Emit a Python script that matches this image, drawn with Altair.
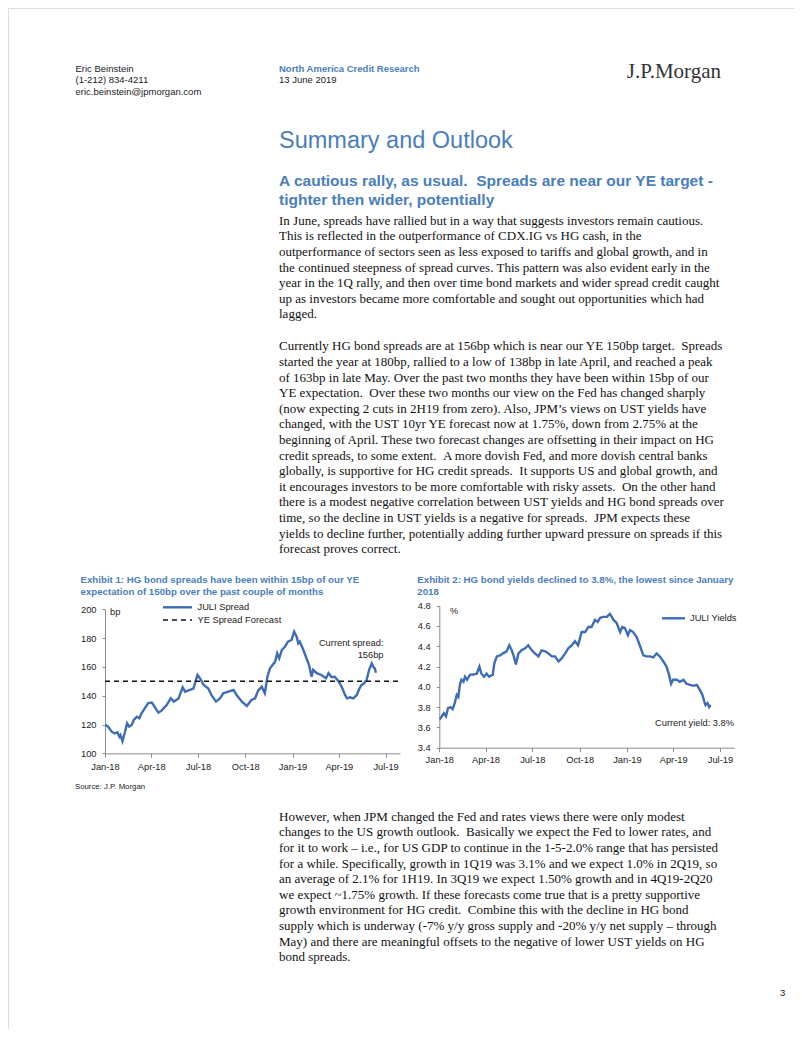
import altair as alt
import pandas as pd

# ---------------- page geometry ----------------
W, H = 786, 1021          # whole drawing (page minus 8px margin)
M = 8                     # page margin of the browser

BLUE_TXT = "#4A7EBB"
LINE_BLUE = "#3E6DB3"
AXIS_GREY = "#8C8C8C"
SANS = "Liberation Sans"
SERIF = "Liberation Serif"

# ---------------- texts ----------------
header_author = ["Eric Beinstein", "(1-212) 834-4211", "eric.beinstein@jpmorgan.com"]
header_unit = "North America Credit Research"
header_date = "13 June 2019"
logo = "J.P.Morgan"
page_title = "Summary and Outlook"
sub_heading = ["A cautious rally, as usual. \u00a0Spreads are near our YE target -",
               "tighter then wider, potentially"]

para1 = [
    "In June, spreads have rallied but in a way that suggests investors remain cautious.",
    "This is reflected in the outperformance of CDX.IG vs HG cash, in the",
    "outperformance of sectors seen as less exposed to tariffs and global growth, and in",
    "the continued steepness of spread curves. This pattern was also evident early in the",
    "year in the 1Q rally, and then over time bond markets and wider spread credit caught",
    "up as investors became more comfortable and sought out opportunities which had",
    "lagged.",
]
para2 = [
    "Currently HG bond spreads are at 156bp which is near our YE 150bp target. \u00a0Spreads",
    "started the year at 180bp, rallied to a low of 138bp in late April, and reached a peak",
    "of 163bp in late May. Over the past two months they have been within 15bp of our",
    "YE expectation. \u00a0Over these two months our view on the Fed has changed sharply",
    "(now expecting 2 cuts in 2H19 from zero). Also, JPM\u2019s views on UST yields have",
    "changed, with the UST 10yr YE forecast now at 1.75%, down from 2.75% at the",
    "beginning of April. These two forecast changes are offsetting in their impact on HG",
    "credit spreads, to some extent. \u00a0A more dovish Fed, and more dovish central banks",
    "globally, is supportive for HG credit spreads. \u00a0It supports US and global growth, and",
    "it encourages investors to be more comfortable with risky assets. \u00a0On the other hand",
    "there is a modest negative correlation between UST yields and HG bond spreads over",
    "time, so the decline in UST yields is a negative for spreads. \u00a0JPM expects these",
    "yields to decline further, potentially adding further upward pressure on spreads if this",
    "forecast proves correct.",
]
para3 = [
    "However, when JPM changed the Fed and rates views there were only modest",
    "changes to the US growth outlook. \u00a0Basically we expect the Fed to lower rates, and",
    "for it to work \u2013 i.e., for US GDP to continue in the 1-5-2.0% range that has persisted",
    "for a while. Specifically, growth in 1Q19 was 3.1% and we expect 1.0% in 2Q19, so",
    "an average of 2.1% for 1H19. In 3Q19 we expect 1.50% growth and in 4Q19-2Q20",
    "we expect ~1.75% growth. If these forecasts come true that is a pretty supportive",
    "growth environment for HG credit. \u00a0Combine this with the decline in HG bond",
    "supply which is underway (-7% y/y gross supply and -20% y/y net supply \u2013 through",
    "May) and there are meaningful offsets to the negative of lower UST yields on HG",
    "bond spreads.",
]
ex1_title = ["Exhibit 1: HG bond spreads have been within 15bp of our YE",
             "expectation of 150bp over the past couple of months"]
ex2_title = ["Exhibit 2: HG bond yields declined to 3.8%, the lowest since January",
             "2018"]
ex1_legend = ["JULI Spread", "YE Spread Forecast"]
ex2_legend = "JULI Yields"
ex1_note = ["Current spread:", "156bp"]
ex2_note = "Current yield: 3.8%"
source = "Source: J.P. Morgan"
page_no = "3"

# ---------------- chart data ----------------
spread_dates = [
    "2018-01-02", "2018-01-07", "2018-01-14", "2018-01-20", "2018-01-25", "2018-01-29", "2018-01-31",
    "2018-02-04", "2018-02-09", "2018-02-13", "2018-02-17", "2018-02-22", "2018-02-26",
    "2018-03-04", "2018-03-09", "2018-03-13", "2018-03-19", "2018-03-26",
    "2018-04-02", "2018-04-15", "2018-04-21",
    "2018-05-01", "2018-05-09", "2018-05-15", "2018-05-24",
    "2018-06-01", "2018-06-06", "2018-06-15", "2018-06-22", "2018-06-30",
    "2018-07-05", "2018-07-12", "2018-07-21", "2018-07-27",
    "2018-08-05", "2018-08-13", "2018-08-19", "2018-08-29",
    "2018-09-08", "2018-09-14", "2018-09-24",
    "2018-10-04", "2018-10-13", "2018-10-20", "2018-10-26",
    "2018-11-02", "2018-11-08", "2018-11-13", "2018-11-18", "2018-11-23", "2018-11-28",
    "2018-12-02", "2018-12-06", "2018-12-11", "2018-12-17", "2018-12-23", "2018-12-30",
    "2019-01-04", "2019-01-09", "2019-01-12", "2019-01-15", "2019-01-22", "2019-01-28",
    "2019-02-02", "2019-02-07", "2019-02-10", "2019-02-17", "2019-02-26",
    "2019-03-07", "2019-03-12", "2019-03-18", "2019-03-24", "2019-03-29",
    "2019-04-03", "2019-04-08", "2019-04-13", "2019-04-17", "2019-04-23", "2019-04-29",
    "2019-05-06", "2019-05-11", "2019-05-15", "2019-05-20", "2019-05-25", "2019-05-30",
    "2019-06-04", "2019-06-07", "2019-06-10", "2019-06-12",
]
spread_bp = [
    119.7, 118.5, 115, 113.8, 114.6, 111.5, 112.7,
    108.5, 115, 120.8, 118.5, 119.7, 123.1,
    125.4, 124.3, 127.8, 131, 134.9,
    135.2, 128.2, 129.6,
    133.5, 138.2, 135.9, 138,
    145.8, 142.8, 144, 145, 154.4,
    152, 147.4, 145, 140.5,
    135.9, 138.2, 141.7, 142.8,
    144, 140.5, 136,
    132.9, 137, 138.2, 143.5,
    146.3, 141.7, 153.2, 159, 161.3, 163.6,
    169.4, 166, 171.7, 174, 177.5, 178.7,
    184.5, 181, 176.4, 177.5, 171.7, 166,
    161.3, 153.2, 158, 155.6, 154.4,
    152.1, 155.6, 152.8, 153.2, 151,
    148.6, 145, 140.5, 138.2, 138.9, 138.2,
    140.5, 145, 147.4, 148.6, 151, 158,
    162.5, 160.1, 159, 156,
]
ye_forecast_bp = 150

yield_dates = [
    "2018-01-02", "2018-01-06", "2018-01-10", "2018-01-14", "2018-01-18", "2018-01-23", "2018-01-27", "2018-01-31",
    "2018-02-04", "2018-02-07", "2018-02-10", "2018-02-13", "2018-02-17", "2018-02-20", "2018-02-24",
    "2018-03-02", "2018-03-08", "2018-03-15", "2018-03-20", "2018-03-24", "2018-03-29",
    "2018-04-03", "2018-04-08", "2018-04-15", "2018-04-18", "2018-04-23", "2018-04-29",
    "2018-05-05", "2018-05-12", "2018-05-17", "2018-05-22", "2018-05-26", "2018-05-30",
    "2018-06-04", "2018-06-10", "2018-06-17", "2018-06-23", "2018-06-30",
    "2018-07-06", "2018-07-13", "2018-07-19", "2018-07-26",
    "2018-08-01", "2018-08-08", "2018-08-14", "2018-08-21", "2018-08-27",
    "2018-09-03", "2018-09-09", "2018-09-16", "2018-09-22", "2018-09-28",
    "2018-10-05", "2018-10-12", "2018-10-18", "2018-10-24", "2018-10-31",
    "2018-11-05", "2018-11-10", "2018-11-16", "2018-11-23", "2018-11-29",
    "2018-12-06", "2018-12-12", "2018-12-19", "2018-12-23", "2018-12-28",
    "2019-01-03", "2019-01-07", "2019-01-13", "2019-01-20", "2019-01-26",
    "2019-02-02", "2019-02-08", "2019-02-15", "2019-02-21", "2019-02-28",
    "2019-03-06", "2019-03-13", "2019-03-19", "2019-03-24", "2019-03-28",
    "2019-04-01", "2019-04-08", "2019-04-14", "2019-04-21", "2019-04-27",
    "2019-05-04", "2019-05-10", "2019-05-17", "2019-05-23", "2019-05-28",
    "2019-06-01", "2019-06-03", "2019-06-07", "2019-06-10", "2019-06-13",
]
yield_pct = [
    3.68, 3.71, 3.74, 3.71, 3.79, 3.80, 3.78, 3.84,
    3.92, 3.90, 4.02, 4.07, 4.05, 4.10, 4.07,
    4.12, 4.12, 4.13, 4.20, 4.13, 4.10,
    4.13, 4.10, 4.12, 4.23, 4.30, 4.31,
    4.33, 4.35, 4.41, 4.36, 4.30, 4.22,
    4.33, 4.36, 4.38, 4.41, 4.36,
    4.33, 4.30, 4.36, 4.35,
    4.33, 4.30, 4.30, 4.25, 4.28,
    4.33, 4.38, 4.41, 4.45, 4.41,
    4.54, 4.54, 4.59, 4.59, 4.66,
    4.64, 4.68, 4.69, 4.69, 4.72,
    4.66, 4.63, 4.54, 4.59, 4.58,
    4.51, 4.56, 4.54, 4.49, 4.41,
    4.31, 4.30, 4.30, 4.29, 4.33,
    4.30, 4.25, 4.20, 4.12, 4.03,
    4.07, 4.07, 4.05, 4.07, 4.03,
    4.02, 4.01, 4.02, 3.97, 3.92,
    3.85, 3.82, 3.84, 3.80, 3.82,
]

quarter_ticks = [(2018, 1), (2018, 4), (2018, 7), (2018, 10), (2019, 1), (2019, 4), (2019, 7)]
x_start = (2018, 1, 1)
x_end = (2019, 7, 29)
spread_ticks = [100, 120, 140, 160, 180, 200]
yield_ticks = [3.4, 3.6, 3.8, 4.0, 4.2, 4.4, 4.6, 4.8]

# ---------------- helpers ----------------
DUMMY = alt.Data(values=[{"k": 0}])


def dt(t):
    return alt.DateTime(year=t[0], month=t[1], date=t[2] if len(t) > 2 else 1)


def label(x, y, s, size=9.0, font=SANS, color="#222222", weight="normal",
          align="left", lh=None):
    """x, y: page coordinates of the (first) line's centre."""
    multi = isinstance(s, list)
    mark = dict(align=align, font=font, fontSize=size, fontWeight=weight, color=color)
    if multi:
        mark.update(baseline="alphabetic", lineHeight=lh or size * 1.2)
        yy = y - M + 0.32 * size
    else:
        mark.update(baseline="middle")
        yy = y - M
    return alt.Chart(DUMMY).mark_text(**mark).encode(
        x=alt.value(x - M), y=alt.value(yy), text=alt.value(s))


def legend_line(x0, x1, y, dash=None, color=LINE_BLUE, width=2.4):
    kw = dict(color=color, strokeWidth=width)
    if dash:
        kw["strokeDash"] = dash
    return alt.Chart(DUMMY).mark_rule(**kw).encode(
        x=alt.value(x0 - M), x2=alt.value(x1 - M),
        y=alt.value(y - M), y2=alt.value(y - M))


def x_axis(axis_y_page, pad):
    return alt.Axis(orient="bottom", offset=(axis_y_page - M) - H,
                    values=[dt(q) for q in quarter_ticks], format="%b-%y",
                    labelFont=SANS, labelFontSize=9.3, labelColor="#222222",
                    labelPadding=pad, labelFlush=False, labelOverlap=False,
                    tickSize=4, tickColor=AXIS_GREY, domainColor=AXIS_GREY,
                    grid=False, title=None)


def y_axis(axis_x_page, values, fmt):
    return alt.Axis(orient="left", offset=-(axis_x_page - M), values=values, format=fmt,
                    labelFont=SANS, labelFontSize=9.3, labelColor="#222222",
                    labelPadding=6, labelOverlap=False,
                    tickSize=3, tickColor=AXIS_GREY, domainColor=AXIS_GREY,
                    grid=False, title=None)


# ---------------- Exhibit 1 ----------------
spread_df = pd.DataFrame({"date": pd.to_datetime(spread_dates), "bp": spread_bp})
x1_scale = alt.Scale(domain=[dt(x_start), dt(x_end)], range=[105 - M, 400 - M])
y1_scale = alt.Scale(domain=[100, 200], range=[753.3 - M, 609.3 - M], nice=False, zero=False)

spread_line = alt.Chart(spread_df).mark_line(color=LINE_BLUE, strokeWidth=2.4).encode(
    x=alt.X("date:T", scale=x1_scale, axis=x_axis(753.3, 5)),
    y=alt.Y("bp:Q", scale=y1_scale, axis=y_axis(105, spread_ticks, "d")),
)
forecast_rule = alt.Chart(DUMMY).mark_rule(color="#111111", strokeWidth=1.4,
                                           strokeDash=[5, 4]).encode(
    x=alt.X(datum=dt(x_start), type="temporal"),
    x2=alt.X2(datum=dt(x_end)),
    y=alt.Y(datum=ye_forecast_bp, type="quantitative"),
)
exhibit1 = alt.layer(spread_line, forecast_rule)

# ---------------- Exhibit 2 ----------------
yield_df = pd.DataFrame({"date": pd.to_datetime(yield_dates), "pct": yield_pct})
x2_scale = alt.Scale(domain=[dt(x_start), dt(x_end)], range=[439.3 - M, 734.3 - M])
y2_scale = alt.Scale(domain=[3.4, 4.8], range=[747.7 - M, 605.7 - M], nice=False, zero=False)

yield_line = alt.Chart(yield_df).mark_line(color=LINE_BLUE, strokeWidth=2.4).encode(
    x=alt.X("date:T", scale=x2_scale, axis=x_axis(747.7, 4)),
    y=alt.Y("pct:Q", scale=y2_scale, axis=y_axis(439.3, yield_ticks, ".1f")),
)
exhibit2 = alt.layer(yield_line)

# ---------------- page texts ----------------
texts = [
    label(75.5, 69, header_author, size=9.5, lh=11.3),
    label(279, 69, header_unit, size=9.5, color=BLUE_TXT, weight="bold"),
    label(279, 80.3, header_date, size=9.5),
    label(721, 72, logo, size=21, font=SERIF, color="#333333", align="right"),
    label(279, 141, page_title, size=23.5, color=BLUE_TXT),
    label(279, 181.5, sub_heading, size=15.5, color=BLUE_TXT, weight="bold", lh=18.2),
    label(279, 220.6, para1, size=13, font=SERIF, color="#111111", lh=15.6),
    label(279, 346.2, para2, size=13, font=SERIF, color="#111111", lh=15.6),
    label(279, 816.7, para3, size=13, font=SERIF, color="#111111", lh=15.6),
    label(80.5, 580, ex1_title, size=9.7, color=BLUE_TXT, weight="bold", lh=11.8),
    label(417.3, 580, ex2_title, size=9.7, color=BLUE_TXT, weight="bold", lh=11.8),
    label(110, 612, "bp", size=9.3),
    label(450, 610.5, "%", size=9.3),
    legend_line(163, 192, 607.3),
    label(197.5, 607.3, ex1_legend[0], size=9.3),
    legend_line(163, 192, 620, dash=[5, 4], color="#111111", width=1.4),
    label(197.5, 620, ex1_legend[1], size=9.3),
    legend_line(662, 685, 618.3),
    label(690, 618.3, ex2_legend, size=9.3),
    label(383.5, 643, ex1_note, size=9.3, align="right", lh=12),
    label(655, 723, ex2_note, size=9.3),
    label(75, 786.7, source, size=7.8),
    label(780, 993, page_no, size=9.5),
]

chart = alt.layer(*texts, exhibit1, exhibit2).resolve_scale(
    x="independent", y="independent"
).properties(
    width=W, height=H, padding=0,
    autosize=alt.AutoSizeParams(type="none"),
).configure_view(stroke=None).configure(background="white")

chart.save("out.html", embed_options={"renderer": "svg", "actions": False})
